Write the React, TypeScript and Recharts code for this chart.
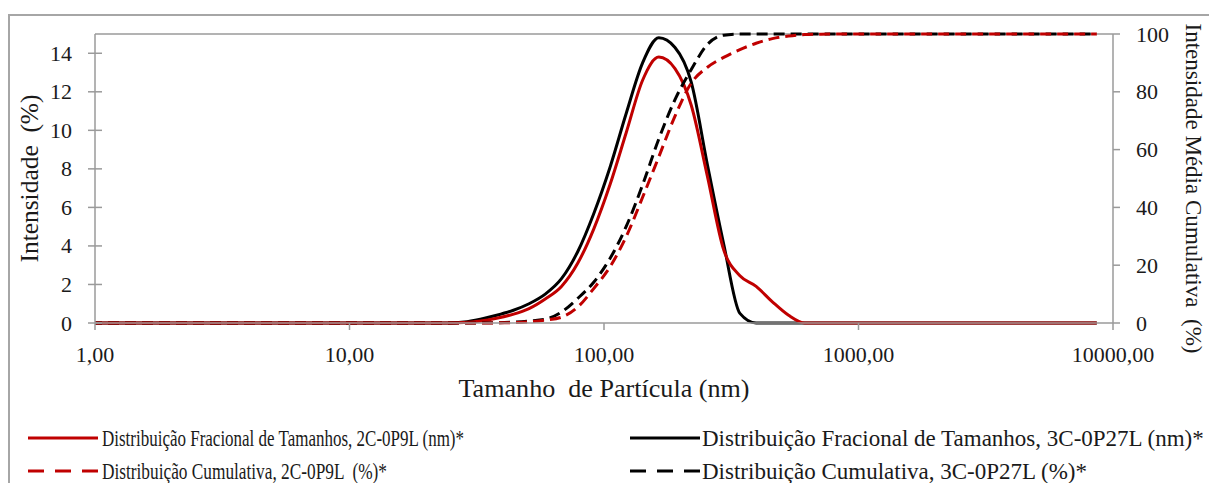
import React from 'react';
import { LineChart, Line, XAxis, YAxis, Legend, ReferenceLine } from 'recharts';

// Particle size bins (nm)
const particleSizes = [
  0.9649, 1.117, 1.294, 1.499, 1.736, 2.01, 2.328, 2.696, 3.122, 3.615,
  4.187, 4.849, 5.615, 6.503, 7.531, 8.721, 10.1, 11.7, 13.54, 15.69,
  18.17, 21.04, 24.36, 28.21, 32.67, 37.84, 43.82, 50.75, 58.77, 68.06,
  78.82, 91.28, 105.7, 122.4, 141.8, 164.2, 190.1, 220.2, 255.0, 295.3,
  342.0, 396.1, 458.7, 531.2, 615.1, 712.4, 825.0, 955.4, 1106, 1281,
  1484, 1718, 1990, 2305, 2669, 3091, 3580, 4145, 4801, 5560,
  6439, 7456, 8635,
];

// Fractional distribution 2C-0P9L (%)
const frac2C = [
  0, 0, 0, 0, 0, 0, 0, 0, 0, 0,
  0, 0, 0, 0, 0, 0, 0, 0, 0, 0,
  0, 0, 0, 0.02, 0.1, 0.25, 0.45, 0.75, 1.25, 1.9,
  3.1, 4.9, 7.2, 9.9, 12.6, 13.8, 13.2, 11.3, 7.6, 3.8,
  2.45, 1.9, 1.1, 0.4, 0, 0, 0, 0, 0, 0,
  0, 0, 0, 0, 0, 0, 0, 0, 0, 0,
  0, 0, 0,
];

// Fractional distribution 3C-0P27L (%)
const frac3C = [
  0, 0, 0, 0, 0, 0, 0, 0, 0, 0,
  0, 0, 0, 0, 0, 0, 0, 0, 0, 0,
  0, 0, 0, 0.05, 0.2, 0.4, 0.65, 1.0, 1.5, 2.3,
  3.7, 5.7, 8.1, 10.9, 13.5, 14.8, 14.3, 12.5, 8.2, 4.1,
  0.5, 0, 0, 0, 0, 0, 0, 0, 0, 0,
  0, 0, 0, 0, 0, 0, 0, 0, 0, 0,
  0, 0, 0,
];

// Cumulative distribution 2C-0P9L (%)
const cum2C = [
  0, 0, 0, 0, 0, 0, 0, 0, 0, 0,
  0, 0, 0, 0, 0, 0, 0, 0, 0, 0,
  0, 0, 0, 0, 0, 0.05, 0.15, 0.4, 1.0, 2.0,
  5.5, 12, 19.5, 30, 43.5, 57.5, 71.6, 83, 88.5, 91.9,
  94.6, 96.8, 98.4, 99.3, 99.8, 99.95, 100, 100, 100, 100,
  100, 100, 100, 100, 100, 100, 100, 100, 100, 100,
  100, 100, 100,
];

// Cumulative distribution 3C-0P27L (%)
const cum3C = [
  0, 0, 0, 0, 0, 0, 0, 0, 0, 0,
  0, 0, 0, 0, 0, 0, 0, 0, 0, 0,
  0, 0, 0, 0, 0.05, 0.1, 0.3, 0.7, 1.3, 3.8,
  8.5, 14.2, 22.4, 33.5, 47.8, 63.7, 77.3, 87.7, 96.4, 99.6,
  100, 100, 100, 100, 100, 100, 100, 100, 100, 100,
  100, 100, 100, 100, 100, 100, 100, 100, 100, 100,
  100, 100, 100,
];

const xTicks = [1, 10, 100, 1000, 10000];
const xTickLabels = ['1,00', '10,00', '100,00', '1000,00', '10000,00'];
const leftTicks = [0, 2, 4, 6, 8, 10, 12, 14];
const rightTicks = [0, 20, 40, 60, 80, 100];

const NAME_FRAC_2C = 'Distribuição Fracional de Tamanhos, 2C-0P9L (nm)*';
const NAME_FRAC_3C = 'Distribuição Fracional de Tamanhos, 3C-0P27L (nm)*';
const NAME_CUM_2C = 'Distribuição Cumulativa, 2C-0P9L  (%)*';
const NAME_CUM_3C = 'Distribuição Cumulativa, 3C-0P27L (%)*';

const data = particleSizes.map((size, i) => ({
  size,
  frac2C: frac2C[i],
  frac3C: frac3C[i],
  cum2C: cum2C[i],
  cum3C: cum3C[i],
}));

const W = 1209;
const H = 483;
// plot area: x 95..1113, y 34..323 (axes take 1px each)
const M = { top: 34, right: 95, bottom: 159, left: 94 };
const PL = 95;
const PR = 1113;
const PT = 34;
const PB = 323;
const RED = '#C00000';
const BLACK = '#000000';
const AXIS = '#9a9a9a';
const TEXT = '#1a1a1a';
const FONT = '"Liberation Serif", "Times New Roman", serif';
const DASH = '11 6';

const LeftTick = (props: any) => {
  const { x, y, payload } = props;
  return (
    <g>
      <line x1={x - 7} x2={x + 7} y1={y} y2={y} stroke={AXIS} strokeWidth={1.5} />
      <text x={x - 23} y={y + 7.5} textAnchor="end" fontSize={22} fontFamily={FONT} fill={TEXT}>
        {payload.value}
      </text>
    </g>
  );
};

const RightTick = (props: any) => {
  const { x, y, payload } = props;
  return (
    <g>
      <line x1={x} x2={x + 7} y1={y} y2={y} stroke={AXIS} strokeWidth={1.5} />
      <text x={x + 23} y={y + 7.5} textAnchor="start" fontSize={22} fontFamily={FONT} fill={TEXT}>
        {payload.value}
      </text>
    </g>
  );
};

const BottomTick = (props: any) => {
  const { x, y, payload } = props;
  const idx = xTicks.indexOf(payload.value);
  return (
    <g>
      <line x1={x} x2={x} y1={y} y2={y + 7} stroke={AXIS} strokeWidth={1.5} />
      <text x={x} y={y + 39} textAnchor="middle" fontSize={22} fontFamily={FONT} fill={TEXT}>
        {idx >= 0 ? xTickLabels[idx] : String(payload.value)}
      </text>
    </g>
  );
};

const renderLegend = (props: any) => {
  const payload: any[] = props.payload || [];
  const find = (k: string) => payload.find((p) => p.dataKey === k);
  const items = [
    { key: 'frac2C', col: 0, row: 0, dash: false, len: 362 },
    { key: 'cum2C', col: 0, row: 1, dash: true, len: 285 },
    { key: 'frac3C', col: 1, row: 0, dash: false, len: 0 },
    { key: 'cum3C', col: 1, row: 1, dash: true, len: 0 },
  ];
  const colLineX = [28, 630];
  const colTextX = [102, 702];
  const rowY = [23, 56];
  return (
    <svg width={W} height={68} style={{ display: 'block' }}>
      {items.map((it) => {
        const p = find(it.key);
        if (!p) return null;
        const x0 = colLineX[it.col];
        const y = rowY[it.row];
        return (
          <g key={it.key}>
            <line
              x1={x0}
              x2={x0 + 70}
              y1={y}
              y2={y}
              stroke={p.color}
              strokeWidth={3}
              strokeDasharray={it.dash ? '16 11' : undefined}
            />
            <text
              x={colTextX[it.col]}
              y={y + 8}
              fontSize={23}
              fontFamily={FONT}
              fill={TEXT}
              style={{ whiteSpace: 'pre' }}
              {...(it.len ? { textLength: it.len, lengthAdjust: 'spacingAndGlyphs' } : {})}
            >
              {p.value}
            </text>
          </g>
        );
      })}
    </svg>
  );
};

export default function App() {
  return (
    <div style={{ position: 'absolute', left: 0, top: 0, width: W, height: H, overflow: 'hidden', background: '#fff' }}>
      <div
        style={{
          position: 'absolute',
          left: 8,
          top: 14,
          width: W - 8,
          height: H - 14,
          borderTop: '2px solid #a6a6a6',
          borderLeft: '2px solid #a6a6a6',
          boxSizing: 'border-box',
        }}
      />
      <div style={{ position: 'absolute', left: 0, top: 0 }}>
        <LineChart width={W} height={H} data={data} margin={M}>
          <XAxis
            dataKey="size"
            type="number"
            scale="log"
            domain={[1, 10000]}
            allowDataOverflow
            ticks={xTicks}
            interval={0}
            height={1}
            tickSize={0}
            tickMargin={0}
            tickLine={false}
            stroke={AXIS}
            strokeWidth={1.5}
            tick={<BottomTick />}
            label={() => (
              <text
                x={(PL + PR) / 2}
                y={PB + 74}
                textAnchor="middle"
                fontSize={26}
                fontFamily={FONT}
                fill={TEXT}
                textLength={291}
                lengthAdjust="spacingAndGlyphs"
                style={{ whiteSpace: 'pre' }}
              >
                {'Tamanho  de Partícula (nm)'}
              </text>
            )}
          />
          <YAxis
            yAxisId="left"
            orientation="left"
            type="number"
            domain={[0, 15]}
            ticks={leftTicks}
            interval={0}
            width={1}
            tickSize={0}
            tickMargin={0}
            tickLine={false}
            stroke={AXIS}
            strokeWidth={1.5}
            tick={<LeftTick />}
            label={() => (
              <text
                x={PL - 57}
                y={(PT + PB) / 2}
                transform={`rotate(-90, ${PL - 57}, ${(PT + PB) / 2})`}
                textAnchor="middle"
                fontSize={25}
                fontFamily={FONT}
                fill={TEXT}
                textLength={168}
                lengthAdjust="spacingAndGlyphs"
                style={{ whiteSpace: 'pre' }}
              >
                {'Intensidade  (%)'}
              </text>
            )}
          />
          <YAxis
            yAxisId="right"
            orientation="right"
            type="number"
            domain={[0, 100]}
            ticks={rightTicks}
            interval={0}
            width={1}
            tickSize={0}
            tickMargin={0}
            tickLine={false}
            stroke={AXIS}
            strokeWidth={1.5}
            tick={<RightTick />}
            label={() => (
              <text
                x={PR + 73}
                y={(PT + PB) / 2 + 10}
                transform={`rotate(90, ${PR + 73}, ${(PT + PB) / 2 + 10})`}
                textAnchor="middle"
                fontSize={24}
                fontFamily={FONT}
                fill={TEXT}
                textLength={330}
                lengthAdjust="spacingAndGlyphs"
                style={{ whiteSpace: 'pre' }}
              >
                {'Intensidade Média Cumulativa  (%)'}
              </text>
            )}
          />
          <ReferenceLine yAxisId="left" y={15} stroke={AXIS} strokeWidth={1.5} />
          <Legend
            layout="horizontal"
            verticalAlign="middle"
            align="center"
            wrapperStyle={{ top: 415, left: 0, width: W, height: 68 }}
            content={renderLegend}
          />
          <Line
            yAxisId="left"
            dataKey="frac3C"
            name={NAME_FRAC_3C}
            type="monotone"
            stroke={BLACK}
            strokeWidth={3}
            dot={false}
            activeDot={false}
            isAnimationActive={false}
          />
          <Line
            yAxisId="left"
            dataKey="frac2C"
            name={NAME_FRAC_2C}
            type="monotone"
            stroke={RED}
            strokeWidth={3}
            dot={false}
            activeDot={false}
            isAnimationActive={false}
          />
          <Line
            yAxisId="right"
            dataKey="cum3C"
            name={NAME_CUM_3C}
            type="monotone"
            stroke={BLACK}
            strokeWidth={3}
            strokeDasharray={DASH}
            dot={false}
            activeDot={false}
            isAnimationActive={false}
          />
          <Line
            yAxisId="right"
            dataKey="cum2C"
            name={NAME_CUM_2C}
            type="monotone"
            stroke={RED}
            strokeWidth={3}
            strokeDasharray={DASH}
            dot={false}
            activeDot={false}
            isAnimationActive={false}
          />
        </LineChart>
      </div>
    </div>
  );
}
